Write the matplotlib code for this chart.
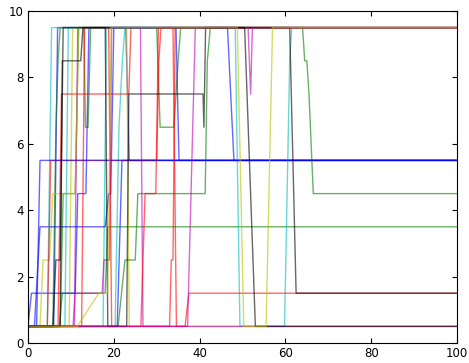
import matplotlib
matplotlib.use("Agg")
import matplotlib.pyplot as plt

# each run: x breakpoints and the level it sits at
b1_x = [0, 2, 2.8, 100]
b1_y = [0.5, 0.5, 5.5, 5.5]
b2_x = [0, 1.5, 2.8, 18, 18.8, 19.3, 20, 46.5, 48, 100]
b2_y = [0.5, 0.5, 3.5, 3.5, 4.5, 4.5, 9.5, 9.5, 5.5, 5.5]
b3_x = [0, 0.8, 11, 11.6, 13.5, 14.2, 34.5, 35.2, 100]
b3_y = [0.5, 1.5, 1.5, 4.5, 4.5, 9.5, 9.5, 5.5, 5.5]
b4_x = [0, 6, 6.9, 22.8, 23.6, 100]
b4_y = [0.5, 0.5, 9.5, 9.5, 5.5, 5.5]
b5_x = [0, 20.8, 21.9, 100]
b5_y = [0.5, 0.5, 5.5, 5.5]

g1_x = [0, 21, 22.6, 25, 25.6, 41.3, 41.8, 42.5, 64, 64.5, 65, 65.5, 66.5, 100]
g1_y = [0.5, 0.5, 2.5, 2.5, 4.5, 4.5, 8.5, 9.5, 9.5, 8.5, 8.5, 7.5, 4.5, 4.5]
g2_x = [0, 7.3, 8, 18, 18.6, 100]
g2_y = [0.5, 0.5, 1.5, 1.5, 3.5, 3.5]
g3_x = [0, 5.8, 6.5, 7, 7.5, 13, 13.4, 14, 14.6, 30, 30.8, 34, 35, 35.6, 100]
g3_y = [0.5, 0.5, 6.5, 8.5, 9.5, 9.5, 6.5, 6.5, 9.5, 9.5, 6.5, 6.5, 8.5, 9.5, 9.5]
g4_x = [0, 7.5, 8.2, 11, 11.8, 100]
g4_y = [0.5, 0.5, 4.5, 4.5, 9.5, 9.5]

r1_x = [0, 4.5, 5.3, 30, 30.5, 31, 33.8, 34.6, 36.6, 37.5, 100]
r1_y = [0.5, 0.5, 5.5, 5.5, 8.5, 9.5, 9.5, 0.5, 0.5, 1.5, 1.5]
r2_x = [0, 7, 7.8, 23.5, 24, 100]
r2_y = [0.5, 0.5, 7.5, 7.5, 9.5, 9.5]
r3_x = [0, 26.3, 27.3, 29.8, 30.4, 100]
r3_y = [0.5, 0.5, 4.5, 4.5, 9.5, 9.5]
r4_x = [0, 12.5, 13.2, 18.8, 19.5, 33, 33.4, 33.8, 34.3, 100]
r4_y = [0.5, 0.5, 9.5, 9.5, 0.5, 0.5, 2.5, 2.5, 9.5, 9.5]

c1_x = [0, 4.5, 5.5, 48.3, 49.4, 59.8, 61, 61.5, 100]
c1_y = [0.5, 0.5, 9.5, 9.5, 0.5, 0.5, 8.5, 9.5, 9.5]
c2_x = [0, 20.3, 21.2, 22, 22.6, 100]
c2_y = [0.5, 0.5, 6.5, 8.5, 9.5, 9.5]
c3_x = [0, 17.5, 18.3, 100]
c3_y = [0.5, 0.5, 9.5, 9.5]
c4_x = [0, 8.6, 9.4, 100]
c4_y = [0.5, 0.5, 9.5, 9.5]

m1_x = [0, 26.2, 26.8, 37.2, 39, 51.3, 51.6, 51.9, 52.3, 100]
m1_y = [0.5, 0.5, 0.5, 0.5, 9.5, 9.5, 8.5, 7.5, 9.5, 9.5]
m2_x = [0, 10.5, 11, 17.3, 17.7, 19, 19.5, 26.2, 26.8, 100]
m2_y = [0.5, 0.5, 1.5, 1.5, 2.5, 2.5, 9.5, 9.5, 0.5, 0.5]
m3_x = [0, 10.8, 11.6, 100]
m3_y = [0.5, 0.5, 9.5, 9.5]

y1_x = [0, 11.5, 16.5, 18.6, 19.4, 48.8, 50.3, 55.5, 57, 100]
y1_y = [0.5, 0.5, 1.5, 1.5, 9.5, 9.5, 0.5, 0.5, 9.5, 9.5]
y2_x = [0, 2.8, 3.5, 5, 5.8, 11, 11.8, 23, 23.6, 100]
y2_y = [0.5, 0.5, 2.5, 2.5, 4.5, 4.5, 9.5, 9.5, 0.5, 0.5]
y3_x = [0, 9.6, 10.4, 100]
y3_y = [0.5, 0.5, 9.5, 9.5]

k1_x = [0, 7.5, 8, 12.3, 12.8, 50.5, 53, 100]
k1_y = [0.5, 0.5, 8.5, 8.5, 9.5, 9.5, 0.5, 0.5]
k2_x = [0, 5.8, 6.5, 7.5, 8.2, 18, 18.6, 23, 23.5, 40.8, 41, 41.4, 61, 62.5, 100]
k2_y = [0.5, 0.5, 2.5, 2.5, 9.5, 9.5, 0.5, 0.5, 7.5, 7.5, 6.5, 9.5, 9.5, 1.5, 1.5]

# drawing order matters: later runs sit on top where they overlap
runs = [
    (c3_x, c3_y, 'c'), (g2_x, g2_y, 'g'), (b4_x, b4_y, 'b'), (g4_x, g4_y, 'g'),
    (c4_x, c4_y, 'c'), (y3_x, y3_y, 'y'),
    (c2_x, c2_y, 'c'), (m3_x, m3_y, 'm'), (g3_x, g3_y, 'g'), (b3_x, b3_y, 'b'),
    (y2_x, y2_y, 'y'), (b5_x, b5_y, 'b'), (b2_x, b2_y, 'b'), (g1_x, g1_y, 'g'),
    (c1_x, c1_y, 'c'), (m2_x, m2_y, 'm'), (r4_x, r4_y, 'r'), (r3_x, r3_y, 'r'),
    (r2_x, r2_y, 'r'), (r1_x, r1_y, 'r'), (b1_x, b1_y, 'b'), (k2_x, k2_y, 'k'),
    (m1_x, m1_y, 'm'), (k1_x, k1_y, 'k'), (y1_x, y1_y, 'y'),
]

fig = plt.figure(figsize=(4.69, 3.63), dpi=100)
ax = fig.add_axes([0.0597, 0.0551, 0.9147, 0.9146])

for xs, ys, col in runs:
    ax.plot(xs, ys, color=col, lw=1.0, alpha=0.6)

ax.set_xlim(0, 100)
ax.set_ylim(0, 10)
ax.set_xticks([0, 20, 40, 60, 80, 100])
ax.set_yticks([0, 2, 4, 6, 8, 10])
ax.tick_params(direction='in', top=True, right=True, length=3.5, labelsize=8.5, pad=3)

fig.savefig('out.png', dpi=100)
